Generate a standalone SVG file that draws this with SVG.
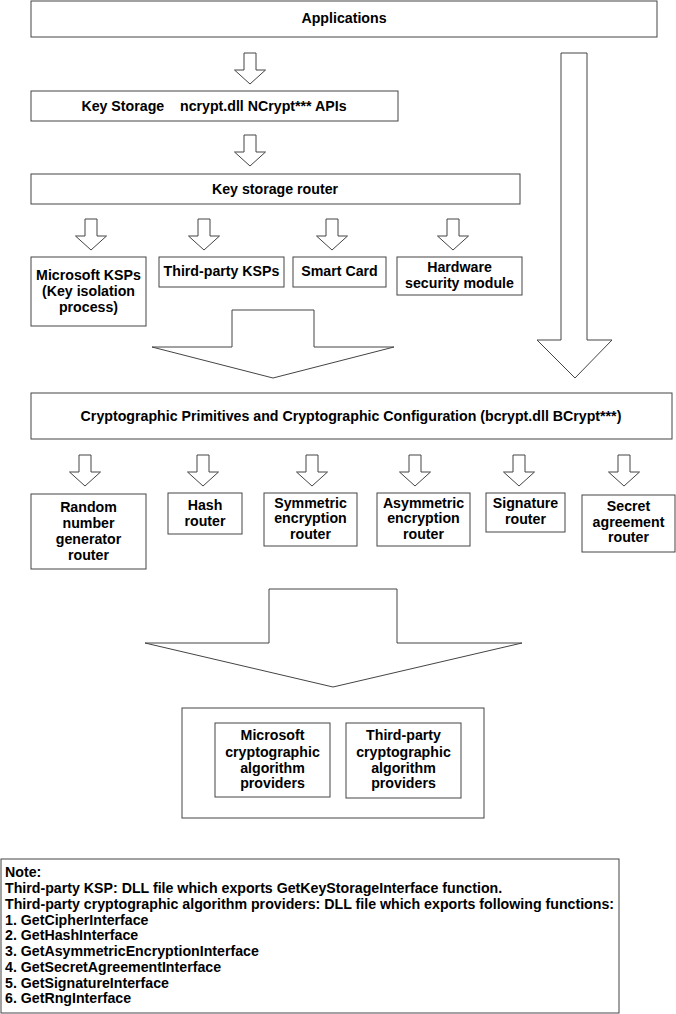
<svg xmlns="http://www.w3.org/2000/svg" xmlns:xlink="http://www.w3.org/1999/xlink" width="676" height="1014" viewBox="0 0 676 1014">
<style>
.box{fill:#fff;stroke:#444;stroke-width:1}
.arr{fill:#fff;stroke:#444;stroke-width:1}
text{font-family:"Liberation Sans",Arial,sans-serif;font-weight:bold;font-size:14.2px;fill:#000}
.c{text-anchor:middle}
</style>
<defs>
<path id="sa" class="arr" d="M-6,0 H6 V17 H15.5 L0,31 L-15.5,17 H-6 Z"/>
</defs>
<rect width="676" height="1014" fill="#fff"/>
<g id="connectors">
<use xlink:href="#sa" transform="translate(250,53)"/>
<use xlink:href="#sa" transform="translate(250,135)"/>
<use xlink:href="#sa" transform="translate(91,219)"/>
<use xlink:href="#sa" transform="translate(204,219)"/>
<use xlink:href="#sa" transform="translate(332,219)"/>
<use xlink:href="#sa" transform="translate(453,219)"/>
<use xlink:href="#sa" transform="translate(85,455)"/>
<use xlink:href="#sa" transform="translate(203,455)"/>
<use xlink:href="#sa" transform="translate(312,455)"/>
<use xlink:href="#sa" transform="translate(415,455)"/>
<use xlink:href="#sa" transform="translate(519,455)"/>
<use xlink:href="#sa" transform="translate(624,455)"/>
<path class="arr" d="M561,53 H587 V340 H612 L575,378 L537,340 H561 Z"/>
<path class="arr" d="M232,310 H314 V347 H394 L273,378 L152,347 H232 Z"/>
<path class="arr" d="M269,589 H397 V643 H522 L333,687 L145,643 H269 Z"/>
</g>
<g id="applications"><rect class="box" x="31" y="1" width="626" height="36"/><text class="c" x="344" y="23">Applications</text></g>
<g id="key-storage"><rect class="box" x="31" y="91" width="367" height="30"/><text class="c" x="214" y="111" xml:space="preserve">Key Storage    ncrypt.dll NCrypt*** APIs</text></g>
<g id="ks-router"><rect class="box" x="31" y="174" width="489" height="30"/><text class="c" x="275" y="194">Key storage router</text></g>
<g id="ms-ksp"><rect class="box" x="31" y="257" width="115" height="69"/><text class="c" x="88.5" y="280">Microsoft KSPs</text><text class="c" x="88.5" y="296">(Key isolation</text><text class="c" x="88.5" y="312">process)</text></g>
<g id="tp-ksp"><rect class="box" x="159" y="257" width="125" height="30"/><text class="c" x="221.5" y="276">Third-party KSPs</text></g>
<g id="smart-card"><rect class="box" x="293" y="257" width="93" height="30"/><text class="c" x="339.5" y="276">Smart Card</text></g>
<g id="hsm"><rect class="box" x="397" y="257" width="125" height="38"/><text class="c" x="459.5" y="272">Hardware</text><text class="c" x="459.5" y="288">security module</text></g>
<g id="bcrypt"><rect class="box" x="31" y="393" width="641" height="46"/><text class="c" x="351" y="421">Cryptographic Primitives and Cryptographic Configuration (bcrypt.dll BCrypt***)</text></g>
<g id="rng"><rect class="box" x="31" y="494" width="115" height="75"/><text class="c" x="88.5" y="512">Random</text><text class="c" x="88.5" y="528">number</text><text class="c" x="88.5" y="544">generator</text><text class="c" x="88.5" y="560">router</text></g>
<g id="hash"><rect class="box" x="168" y="493" width="74" height="41"/><text class="c" x="205" y="510">Hash</text><text class="c" x="205" y="526">router</text></g>
<g id="sym"><rect class="box" x="264" y="493" width="93" height="53"/><text class="c" x="310.5" y="508">Symmetric</text><text class="c" x="310.5" y="523">encryption</text><text class="c" x="310.5" y="539">router</text></g>
<g id="asym"><rect class="box" x="377" y="493" width="93" height="53"/><text class="c" x="423.5" y="508">Asymmetric</text><text class="c" x="423.5" y="523">encryption</text><text class="c" x="423.5" y="539">router</text></g>
<g id="sig"><rect class="box" x="486" y="493" width="79" height="39"/><text class="c" x="525.5" y="508">Signature</text><text class="c" x="525.5" y="524">router</text></g>
<g id="secret"><rect class="box" x="582" y="495" width="93" height="57"/><text class="c" x="628.5" y="511">Secret</text><text class="c" x="628.5" y="527">agreement</text><text class="c" x="628.5" y="542">router</text></g>
<g id="providers"><rect class="box" x="182" y="708" width="302" height="110"/></g>
<g id="ms-providers"><rect class="box" x="215" y="723" width="115" height="74"/><text class="c" x="272.5" y="740">Microsoft</text><text class="c" x="272.5" y="757">cryptographic</text><text class="c" x="272.5" y="773">algorithm</text><text class="c" x="272.5" y="788">providers</text></g>
<g id="tp-providers"><rect class="box" x="346" y="723" width="115" height="75"/><text class="c" x="403.5" y="740">Third-party</text><text class="c" x="403.5" y="757">cryptographic</text><text class="c" x="403.5" y="773">algorithm</text><text class="c" x="403.5" y="788">providers</text></g>
<g id="note"><rect class="box" x="1" y="859" width="618" height="154"/>
<text x="5" y="877">Note:</text>
<text x="5" y="893">Third-party KSP: DLL file which exports GetKeyStorageInterface function.</text>
<text x="5" y="909">Third-party cryptographic algorithm providers: DLL file which exports following functions:</text>
<text x="5" y="925">1. GetCipherInterface</text>
<text x="5" y="940">2. GetHashInterface</text>
<text x="5" y="956">3. GetAsymmetricEncryptionInterface</text>
<text x="5" y="972">4. GetSecretAgreementInterface</text>
<text x="5" y="988">5. GetSignatureInterface</text>
<text x="5" y="1003">6. GetRngInterface</text>
</g>
</svg>
